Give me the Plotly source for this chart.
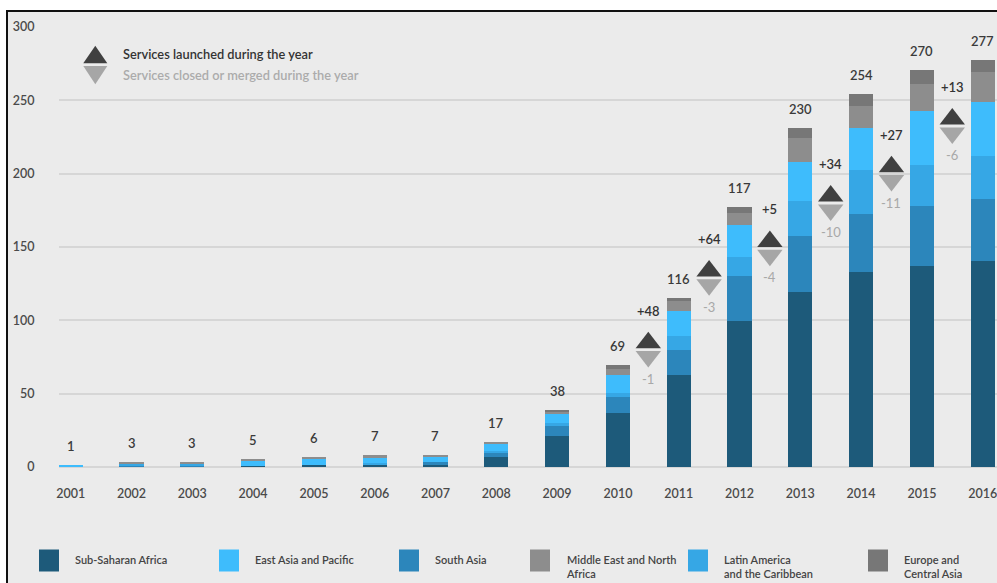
import plotly.graph_objects as go

# ---------------- data ----------------
years = [2001, 2002, 2003, 2004, 2005, 2006, 2007, 2008,
         2009, 2010, 2011, 2012, 2013, 2014, 2015, 2016]
year_labels = [str(y) for y in years]

sub_saharan_africa = [0, 0, 0, 0.7, 1.4, 1.4, 2, 7, 21, 37, 63, 99.5, 119, 132.7, 137, 140.5]
south_asia         = [0, 0.5, 0.5, 0, 0, 0, 1.1, 3, 7, 10.7, 17, 31, 38.4, 40, 41, 42]
latin_america      = [0, 1.8, 1.8, 0, 0, 1.6, 0, 1, 2, 3, 9.6, 12.6, 24, 29.5, 28, 29.7]
east_asia_pacific  = [1.2, 0, 0, 3.2, 4.4, 3.4, 3.4, 5, 6.4, 12, 17, 22, 26.7, 29.2, 37, 37]
middle_east        = [0, 1.1, 1.1, 1.4, 1, 1.6, 1.6, 1, 1.6, 3.9, 6.4, 8.2, 16, 14.8, 18.3, 20]
europe_central     = [0, 0, 0, 0, 0, 0, 0, 0, 1, 2.7, 2.3, 3.9, 6.8, 8.4, 9.4, 8.4]

total_labels = ["1", "3", "3", "5", "6", "7", "7", "17", "38", "69",
                "116", "117", "230", "254", "270", "277"]

delta_years = [2010.5, 2011.5, 2012.5, 2013.5, 2014.5, 2015.5]
launched = [48, 64, 5, 34, 27, 13]
closed = [1, 3, 4, 10, 11, 6]
delta_level = [80, 129, 149, 180, 200, 232.5]   # height (axis units) of each launched/closed marker pair

y_ticks = [0, 50, 100, 150, 200, 250, 300]

# ---------------- layout constants ----------------
W, H = 997, 583
L, R, T, B = 59, 0, 27, 116
PW, PH = W - L - R, H - T - B
FONT = "Lato"
PPU = PH / 300.0  # pixels per y unit


def px_x(p):
    return (p - L) / PW


def px_y(p):
    return (T + PH - p) / PH


series = [
    ("Sub-Saharan Africa", sub_saharan_africa, "#1d5a7a"),
    ("South Asia", south_asia, "#2c86bb"),
    ("Latin America<br>and the Caribbean", latin_america, "#36a7e5"),
    ("East Asia and Pacific", east_asia_pacific, "#3ebcfc"),
    ("Middle East and North<br>Africa", middle_east, "#8d8d8d"),
    ("Europe and<br>Central Asia", europe_central, "#777777"),
]

fig = go.Figure()
for name, vals, col in series:
    fig.add_trace(go.Bar(x=years, y=vals, name=name, width=0.40,
                         marker=dict(color=col, line=dict(width=0)),
                         showlegend=False, hoverinfo="skip"))

totals = [sum(v) for v in zip(*[s[1] for s in series])]

annotations = []
for yr, tot, lab in zip(years, totals, total_labels):
    annotations.append(dict(x=yr, y=tot, xref="x", yref="y", text=lab, showarrow=False,
                            yanchor="bottom", yshift=9,
                            font=dict(family=FONT, size=13, color="#3a3a3a", weight=600)))

TRI = 22
r = TRI / 2.0
off = (1.4 + r / 2.0) / PPU
fig.add_trace(go.Scatter(x=delta_years, y=[lv + off for lv in delta_level], mode="markers",
                         marker=dict(symbol="triangle-up", size=TRI, color="#404040", line=dict(width=0)),
                         showlegend=False, hoverinfo="skip"))
fig.add_trace(go.Scatter(x=delta_years, y=[lv - off for lv in delta_level], mode="markers",
                         marker=dict(symbol="triangle-down", size=TRI, color="#a6a6a6", line=dict(width=0)),
                         showlegend=False, hoverinfo="skip"))

for xv, lv, up, dn in zip(delta_years, delta_level, launched, closed):
    annotations.append(dict(x=xv, y=lv, xref="x", yref="y", text="+%d" % up, showarrow=False,
                            yanchor="middle", yshift=39,
                            font=dict(family=FONT, size=13, color="#333333", weight=600)))
    annotations.append(dict(x=xv, y=lv, xref="x", yref="y", text="-%d" % dn, showarrow=False,
                            yanchor="middle", yshift=-29,
                            font=dict(family=FONT, size=13, color="#a8a8a8")))

# top-left key
annotations.append(dict(x=px_x(121), y=px_y(54), xref="paper", yref="paper",
                        text="Services launched during the year", showarrow=False,
                        xanchor="left", yanchor="middle",
                        font=dict(family=FONT, size=12.8, color="#333333", weight=600)))
annotations.append(dict(x=px_x(121), y=px_y(75), xref="paper", yref="paper",
                        text="Services closed or merged during the year", showarrow=False,
                        xanchor="left", yanchor="middle",
                        font=dict(family=FONT, size=12.8, color="#ababab", weight=600)))


def tri_path(pts):
    s = "M %f,%f" % (px_x(pts[0][0]), px_y(pts[0][1]))
    for p in pts[1:]:
        s += " L %f,%f" % (px_x(p[0]), px_y(p[1]))
    return s + " Z"


shapes = [
    # white margin outside the frame
    dict(type="rect", xref="paper", yref="paper", x0=px_x(0), x1=px_x(W), y0=px_y(0), y1=px_y(10),
         fillcolor="white", line=dict(width=0), layer="below"),
    dict(type="rect", xref="paper", yref="paper", x0=px_x(0), x1=px_x(6), y0=px_y(0), y1=px_y(H),
         fillcolor="white", line=dict(width=0), layer="below"),
    dict(type="line", xref="paper", yref="paper", x0=px_x(6), x1=px_x(W), y0=px_y(11), y1=px_y(11),
         line=dict(color="#111111", width=2)),
    dict(type="line", xref="paper", yref="paper", x0=px_x(7), x1=px_x(7), y0=px_y(10), y1=px_y(H),
         line=dict(color="#111111", width=2)),
    dict(type="path", xref="paper", yref="paper",
         path=tri_path([(83.3, 63.3), (107.3, 63.3), (95.3, 45.7)]),
         fillcolor="#404040", line=dict(width=0)),
    dict(type="path", xref="paper", yref="paper",
         path=tri_path([(83.3, 66), (107.3, 66), (95.3, 84.3)]),
         fillcolor="#a6a6a6", line=dict(width=0)),
]

# bottom legend
legend_order = [0, 3, 1, 4, 2, 5]
legend_x = [39, 219, 399, 530, 688, 868]
for idx, lx in zip(legend_order, legend_x):
    name, _, col = series[idx]
    shapes.append(dict(type="rect", xref="paper", yref="paper",
                       x0=px_x(lx), x1=px_x(lx + 20), y0=px_y(571.5), y1=px_y(549.5),
                       fillcolor=col, line=dict(width=0)))
    annotations.append(dict(x=px_x(lx + 34), y=px_y(551), xref="paper", yref="paper",
                            text=name, showarrow=False, xanchor="left", yanchor="top", align="left",
                            font=dict(family=FONT, size=11, color="#444444", weight=600)))

fig.update_layout(
    width=W, height=H,
    margin=dict(l=L, r=R, t=T, b=B, pad=0),
    paper_bgcolor="#ebebeb", plot_bgcolor="rgba(0,0,0,0)",
    barmode="stack", bargap=0,
    showlegend=False,
    font=dict(family=FONT, color="#444444"),
    xaxis=dict(range=[2000.8076, 2016.2355], tickvals=years, ticktext=year_labels,
               showgrid=False, zeroline=False, showline=False,
               ticks="outside", ticklen=15, tickcolor="rgba(0,0,0,0)",
               ticklabeloverflow="allow",
               tickfont=dict(family=FONT, size=12.5, color="#4a4a4a", weight=600)),
    yaxis=dict(range=[0, 300], tickvals=y_ticks, ticktext=[str(v) for v in y_ticks],
               showgrid=True, gridcolor="#d6d6d6", gridwidth=2,
               zeroline=True, zerolinecolor="#d6d6d6", zerolinewidth=2, showline=False,
               ticks="outside", ticklen=21, tickcolor="rgba(0,0,0,0)",
               tickfont=dict(family=FONT, size=12.5, color="#4a4a4a", weight=600)),
    shapes=shapes,
    annotations=annotations,
)

fig.write_html("out.html", config={"displayModeBar": False},
               post_script="document.body.style.margin='0';document.body.style.overflow='hidden';")
